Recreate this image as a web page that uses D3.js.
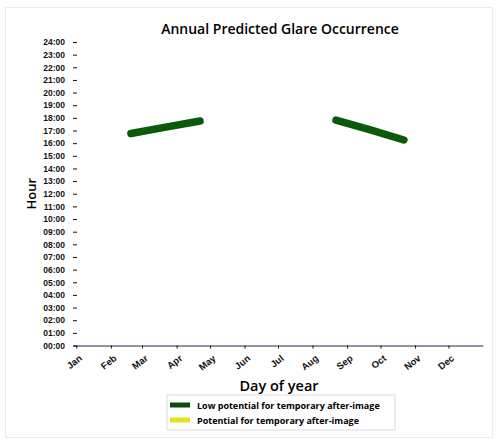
<!DOCTYPE html>
<html>
<head>
<meta charset="utf-8">
<script src="https://cdn.jsdelivr.net/npm/d3@7"></script>
<style>
  body { margin: 0; background: #fff; }
  svg { display: block; font-family: "Open Sans", "DejaVu Sans", sans-serif; }
  .axis text { font-weight: 700; fill: #111; }
  .axis .domain { stroke: #1d2b57; }
  .axis line { stroke: #111; }
</style>
</head>
<body>
<svg width="498" height="442"></svg>
<script>
const monthNames = ['Jan', 'Feb', 'Mar', 'Apr', 'May', 'Jun', 'Jul', 'Aug', 'Sep', 'Oct', 'Nov', 'Dec'];
const monthStartDays = [1, 32, 60, 91, 121, 152, 182, 213, 244, 274, 305, 335];
const hourTicks = d3.range(0, 25);

// glare band centre lines: [day of year, hour]
const springGlare = [[50, 16.76], [80, 17.25], [112, 17.75]];
const autumnGlare = [[234, 17.83], [265, 17.05], [295, 16.25]];

const legendLabels = ['Low potential for temporary after-image', 'Potential for temporary after-image'];
const legendColors = ['#0b4a0b', '#e2e21a'];

const $svg = d3.select('svg');

// dimensions
const margin = {top: 42, left: 73, right: 15, bottom: 96.5};
const width = 498 - margin.left - margin.right;
const height = 442 - margin.top - margin.bottom;

// faint outer frame
$svg.append('rect')
	.attr('x', 5.5).attr('y', 7.5)
	.attr('width', 487).attr('height', 430)
	.attr('fill', 'none')
	.attr('stroke', '#ececec');

const scaleX = d3.scaleLinear()
	.domain([-2, 366])
	.range([0, width]);

const scaleY = d3.scaleLinear()
	.domain([0, 24])
	.range([height, 0]);

const $vis = $svg.append('g')
	.attr('transform', 'translate(' + margin.left + ',' + margin.top + ')');

// title
$svg.append('text')
	.attr('x', 280)
	.attr('y', 34)
	.attr('text-anchor', 'middle')
	.style('font-size', '14px')
	.style('font-weight', 600)
	.text('Annual Predicted Glare Occurrence');

// glare bands
const line = d3.line()
	.x(d => scaleX(d[0]))
	.y(d => scaleY(d[1]));

$vis.selectAll('.glare')
	.data([springGlare, autumnGlare])
	.enter()
	.append('path')
	.attr('class', 'glare')
	.attr('d', line)
	.attr('fill', 'none')
	.attr('stroke', '#0b5a0b')
	.attr('stroke-width', 7.5)
	.attr('stroke-linecap', 'round');

// x axis
const $xAxis = $vis.append('g')
	.attr('class', 'axis axis--x')
	.attr('transform', 'translate(0,' + height + ')')
	.call(d3.axisBottom(scaleX)
		.tickValues(monthStartDays)
		.tickFormat((d, i) => monthNames[i])
		.tickSize(3)
		.tickSizeOuter(0));

$xAxis.selectAll('text')
	.attr('y', null)
	.attr('dy', null)
	.attr('text-anchor', 'end')
	.attr('transform', 'translate(6,14) rotate(-38)')
	.style('font-size', '9.5px');

// y axis
const $yAxis = $vis.append('g')
	.attr('class', 'axis axis--y')
	.call(d3.axisLeft(scaleY)
		.tickValues(hourTicks)
		.tickFormat(d => d3.format('02')(d) + ':00')
		.tickSize(-4)
		.tickPadding(8));

$yAxis.select('.domain').remove();
$yAxis.selectAll('text').style('font-size', '8.5px');

// axis titles
$svg.append('text')
	.attr('transform', 'translate(36,' + (margin.top + height / 2) + ') rotate(-90)')
	.attr('text-anchor', 'middle')
	.style('font-size', '13px')
	.style('font-weight', 600)
	.text('Hour');

$svg.append('text')
	.attr('x', 279)
	.attr('y', 391)
	.attr('text-anchor', 'middle')
	.style('font-size', '14.5px')
	.style('font-weight', 600)
	.text('Day of year');

// legend
const $legend = $svg.append('g')
	.attr('transform', 'translate(167,395)');

$legend.append('rect')
	.attr('width', 228)
	.attr('height', 35)
	.attr('fill', '#fff')
	.attr('stroke', '#dcdcdc');

const $items = $legend.selectAll('.item')
	.data(legendLabels)
	.enter()
	.append('g')
	.attr('class', 'item')
	.attr('transform', (d, i) => 'translate(0,' + (10 + i * 15) + ')');

$items.append('rect')
	.attr('x', 3)
	.attr('y', -2.5)
	.attr('width', 20)
	.attr('height', 5)
	.attr('fill', (d, i) => legendColors[i]);

$items.append('text')
	.attr('x', 30)
	.attr('y', 3.5)
	.style('font-size', '9px')
	.style('font-weight', 700)
	.text(d => d);
</script>
</body>
</html>
